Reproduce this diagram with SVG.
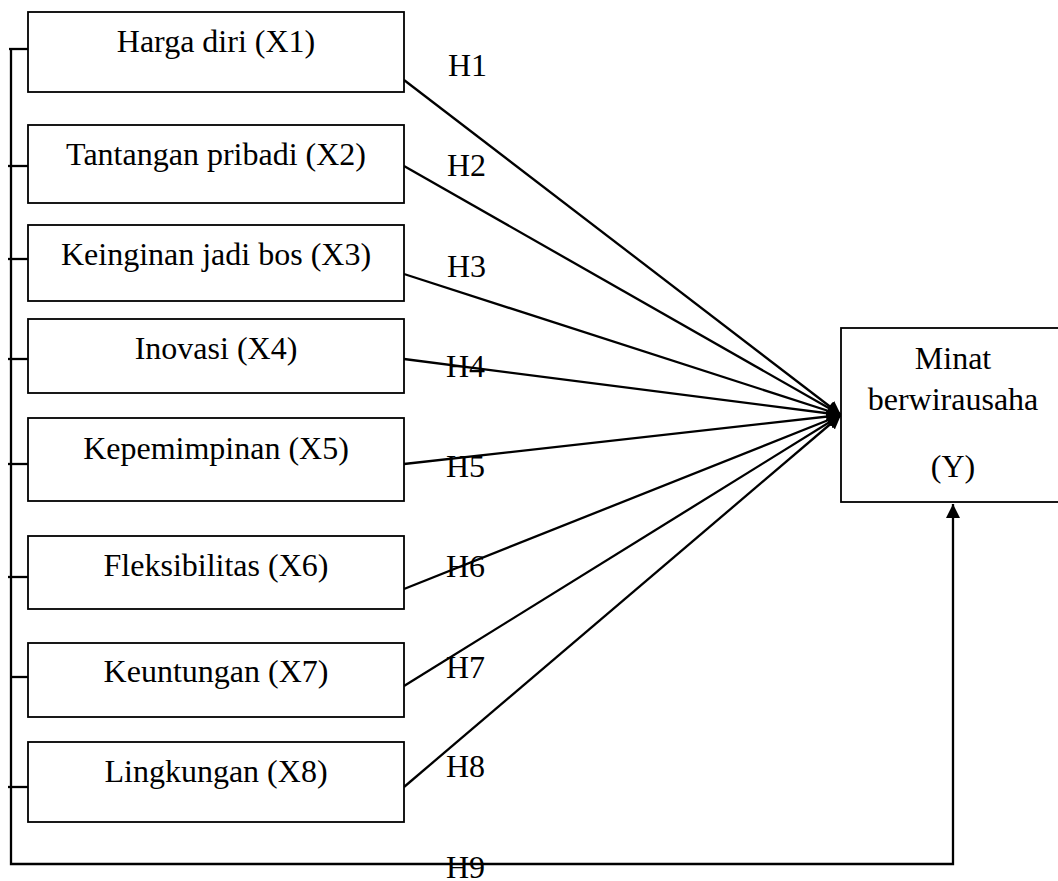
<svg xmlns="http://www.w3.org/2000/svg" width="1058" height="881" viewBox="0 0 1058 881">
<style>
.box{fill:#fff;stroke:#000;stroke-width:1.8}
.t{font-family:"Liberation Serif","Times New Roman",serif;font-size:32px;fill:#000}
.c{text-anchor:middle}
.ln{stroke:#000;stroke-width:2.3;fill:none}
</style>
<defs>
<marker id="ah" markerUnits="userSpaceOnUse" markerWidth="15" markerHeight="14" refX="14" refY="7" orient="auto">
<path d="M0,0 L14,7 L0,14 Z" fill="#000"/>
</marker>
</defs>
<rect width="1058" height="881" fill="#fff"/>
<g id="connectors">
<path class="ln" d="M11,49 V864 H953 V504" marker-end="url(#ah)"/>
<line class="ln" x1="9" y1="49" x2="28" y2="49"/>
<line class="ln" x1="8" y1="166" x2="28" y2="166"/>
<line class="ln" x1="8" y1="259" x2="28" y2="259"/>
<line class="ln" x1="8" y1="359" x2="28" y2="359"/>
<line class="ln" x1="8" y1="464" x2="28" y2="464"/>
<line class="ln" x1="8" y1="577" x2="28" y2="577"/>
<line class="ln" x1="11" y1="677" x2="32" y2="677"/>
<line class="ln" x1="8" y1="787" x2="28" y2="787"/>
<line class="ln" x1="404" y1="80" x2="841" y2="415" marker-end="url(#ah)"/>
<line class="ln" x1="404" y1="166" x2="841" y2="415" marker-end="url(#ah)"/>
<line class="ln" x1="404" y1="274" x2="841" y2="415" marker-end="url(#ah)"/>
<line class="ln" x1="404" y1="359" x2="841" y2="415" marker-end="url(#ah)"/>
<line class="ln" x1="404" y1="464" x2="841" y2="415" marker-end="url(#ah)"/>
<line class="ln" x1="404" y1="589" x2="841" y2="415" marker-end="url(#ah)"/>
<line class="ln" x1="404" y1="686" x2="841" y2="415" marker-end="url(#ah)"/>
<line class="ln" x1="404" y1="787" x2="841" y2="415" marker-end="url(#ah)"/>
<text class="t" x="448" y="76">H1</text>
<text class="t" x="447" y="176">H2</text>
<text class="t" x="447" y="277">H3</text>
<text class="t" x="446" y="377">H4</text>
<text class="t" x="446" y="477">H5</text>
<text class="t" x="446" y="577">H6</text>
<text class="t" x="446" y="678">H7</text>
<text class="t" x="446" y="777">H8</text>
<text class="t" x="446" y="878">H9</text>
</g>
<g id="x1"><rect class="box" x="28" y="12" width="376" height="80"/><text class="t c" x="216" y="52">Harga diri (X1)</text></g>
<g id="x2"><rect class="box" x="28" y="125" width="376" height="78"/><text class="t c" x="216" y="165">Tantangan pribadi (X2)</text></g>
<g id="x3"><rect class="box" x="28" y="225" width="376" height="76"/><text class="t c" x="216" y="265">Keinginan jadi bos (X3)</text></g>
<g id="x4"><rect class="box" x="28" y="319" width="376" height="74"/><text class="t c" x="216" y="359">Inovasi (X4)</text></g>
<g id="x5"><rect class="box" x="28" y="418" width="376" height="83"/><text class="t c" x="216" y="459">Kepemimpinan (X5)</text></g>
<g id="x6"><rect class="box" x="28" y="536" width="376" height="73"/><text class="t c" x="216" y="576">Fleksibilitas (X6)</text></g>
<g id="x7"><rect class="box" x="28" y="643" width="376" height="74"/><text class="t c" x="216" y="682">Keuntungan (X7)</text></g>
<g id="x8"><rect class="box" x="28" y="742" width="376" height="80"/><text class="t c" x="216" y="782">Lingkungan (X8)</text></g>
<g id="y"><rect class="box" x="841" y="328" width="230" height="174"/>
<text class="t c" x="953" y="369">Minat</text>
<text class="t c" x="953" y="410">berwirausaha</text>
<text class="t c" x="953" y="477">(Y)</text></g>
</svg>
